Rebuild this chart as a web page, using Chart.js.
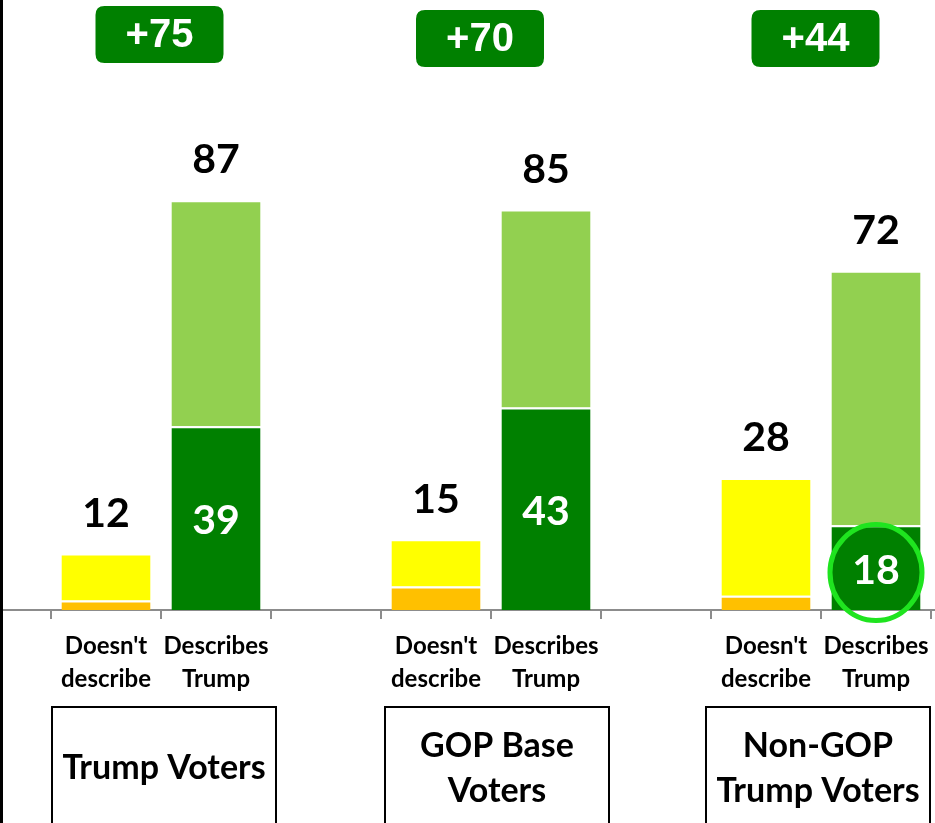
<!DOCTYPE html>
<html>
<head>
<meta charset="utf-8">
<script src="https://cdn.jsdelivr.net/npm/chart.js@4.4.1/dist/chart.umd.min.js"></script>
<style>
  html, body { margin: 0; padding: 0; background: #fff; }
  #wrap { width: 935px; height: 823px; position: relative; }
</style>
</head>
<body>
<div id="wrap"><canvas id="chart"></canvas></div>
<script>
// categories (empty slots keep the gap between the three groups)
const categories = [
    ["Doesn't", "describe"], ["Describes", "Trump"], '',
    ["Doesn't", "describe"], ["Describes", "Trump"], '',
    ["Doesn't", "describe"], ["Describes", "Trump"]
];
const groups = [['Trump Voters'], ['GOP Base', 'Voters'], ['Non-GOP', 'Trump Voters']];
const margins = ['+75', '+70', '+44'];

// values per group
const strongNot = [2, 5, 3];      // orange part of "Doesn't describe"
const totalNot = [12, 15, 28];
const strongYes = [39, 43, 18];   // dark green part of "Describes Trump"
const totalYes = [87, 85, 72];

// spread the group values onto the 8 category slots
function slots(values, offset) {
    const out = new Array(categories.length).fill(null);
    values.forEach((v, g) => { out[g * 3 + offset] = v; });
    return out;
}

const orangeData = slots(strongNot, 0);
const yellowData = slots(totalNot.map((t, i) => t - strongNot[i]), 0);
const darkData = slots(strongYes, 1);
const lightData = slots(totalYes.map((t, i) => t - strongYes[i]), 1);
const totalData = categories.map((c, i) => orangeData[i] !== null ? totalNot[i / 3] : (darkData[i] !== null ? totalYes[(i - 1) / 3] : null));

const LABEL_FONT = 'Lato, "Open Sans", sans-serif';
// small nudges so badges / boxes sit where the original has them
const badgeShift = [-1.5, -11, -5.5];
const boxShift = [3, 6, -3];

function roundRect(ctx, x, y, w, h, r) {
    ctx.beginPath();
    ctx.moveTo(x + r, y);
    ctx.lineTo(x + w - r, y);
    ctx.quadraticCurveTo(x + w, y, x + w, y + r);
    ctx.lineTo(x + w, y + h - r);
    ctx.quadraticCurveTo(x + w, y + h, x + w - r, y + h);
    ctx.lineTo(x + r, y + h);
    ctx.quadraticCurveTo(x, y + h, x, y + h - r);
    ctx.lineTo(x, y + r);
    ctx.quadraticCurveTo(x, y, x + r, y);
    ctx.closePath();
}

const decorPlugin = {
    id: 'decor',
    beforeDatasetsDraw(chart) {
        const ctx = chart.ctx;
        const area = chart.chartArea;
        ctx.save();
        // full-width baseline
        ctx.strokeStyle = '#8c8c8c';
        ctx.lineWidth = 2;
        ctx.beginPath();
        ctx.moveTo(0, area.bottom);
        ctx.lineTo(chart.width, area.bottom);
        ctx.stroke();
        // left edge line
        ctx.strokeStyle = '#000';
        ctx.lineWidth = 3;
        ctx.beginPath();
        ctx.moveTo(1.5, 0);
        ctx.lineTo(1.5, chart.height);
        ctx.stroke();
        ctx.restore();
    },
    afterDatasetsDraw(chart) {
        const ctx = chart.ctx;
        const x = chart.scales.x;
        const topMeta = [chart.getDatasetMeta(1), chart.getDatasetMeta(3)];
        ctx.save();
        ctx.textAlign = 'center';
        ctx.textBaseline = 'middle';

        // totals above the bars
        ctx.fillStyle = '#000';
        ctx.font = 'bold 41px ' + LABEL_FONT;
        totalData.forEach((v, i) => {
            if (v === null) return;
            const meta = orangeData[i] !== null ? topMeta[0] : topMeta[1];
            const bar = meta.data[i];
            ctx.fillText(String(v), bar.x, bar.y - 40);
        });

        // values inside the dark green parts
        const darkMeta = chart.getDatasetMeta(2);
        ctx.fillStyle = '#fff';
        darkData.forEach((v, i) => {
            if (v === null) return;
            const bar = darkMeta.data[i];
            const cy = (bar.y + bar.base) / 2 + 3;
            ctx.fillText(String(v), bar.x, cy);
        });

        // highlight circle around the last dark value
        const last = darkMeta.data[categories.length - 1];
        ctx.strokeStyle = '#1fe41f';
        ctx.lineWidth = 5;
        ctx.beginPath();
        ctx.ellipse(last.x, (last.y + last.base) / 2 + 5, 46, 48, 0, 0, Math.PI * 2);
        ctx.stroke();

        // margin badges and group boxes
        groups.forEach((lines, g) => {
            const cx = x.getPixelForValue(g * 3 + 0.5);
            const bx = cx + badgeShift[g];
            const by = g === 0 ? 6 : 10;
            ctx.fillStyle = '#008000';
            roundRect(ctx, bx - 64, by, 128, 57, 9);
            ctx.fill();
            ctx.fillStyle = '#fff';
            ctx.font = 'bold 40px "Liberation Sans", Arial, sans-serif';
            ctx.fillText(margins[g], bx, by + 30);

            const kx = cx + boxShift[g];
            ctx.strokeStyle = '#000';
            ctx.lineWidth = 2;
            ctx.strokeRect(kx - 112, 707, 224, 140);
            ctx.fillStyle = '#000';
            ctx.font = 'bold 34px ' + LABEL_FONT;
            if (lines.length === 1) {
                ctx.fillText(lines[0], kx, 768);
            } else {
                ctx.fillText(lines[0], kx, 746);
                ctx.fillText(lines[1], kx, 791);
            }
        });
        ctx.restore();
    }
};

const barStyle = { borderColor: '#ffffff', borderWidth: { top: 2 }, borderSkipped: false };

new Chart(document.getElementById('chart'), {
    type: 'bar',
    data: {
        labels: categories,
        datasets: [
            Object.assign({ label: 'Strongly doesn\'t', data: orangeData, backgroundColor: '#ffc000' }, barStyle),
            Object.assign({ label: 'Doesn\'t', data: yellowData, backgroundColor: '#ffff00' }, barStyle),
            Object.assign({ label: 'Strongly describes', data: darkData, backgroundColor: '#008000' }, barStyle),
            Object.assign({ label: 'Describes', data: lightData, backgroundColor: '#92d050' }, barStyle)
        ]
    },
    options: {
        responsive: true,
        maintainAspectRatio: false,
        animation: false,
        layout: { padding: { left: 51, right: 4, top: 0, bottom: 0 } },
        datasets: { bar: { categoryPercentage: 1, barPercentage: 0.81 } },
        scales: {
            x: {
                stacked: true,
                grid: { display: true, offset: true, drawOnChartArea: false, drawTicks: true, tickLength: 9, color: '#8c8c8c', lineWidth: 2 },
                border: { display: false },
                ticks: {
                    color: '#000',
                    padding: 11,
                    maxRotation: 0,
                    autoSkip: false,
                    font: { family: LABEL_FONT, weight: 'bold', size: 24, lineHeight: 1.38 }
                },
                afterFit(scale) {
                    scale.height = 213;
                    scale.paddingLeft = 0;
                    scale.paddingRight = 0;
                }
            },
            y: {
                stacked: true,
                display: false,
                min: 0,
                max: 129.5
            }
        },
        plugins: {
            legend: { display: false },
            tooltip: { enabled: false }
        }
    },
    plugins: [decorPlugin]
});
</script>
</body>
</html>
